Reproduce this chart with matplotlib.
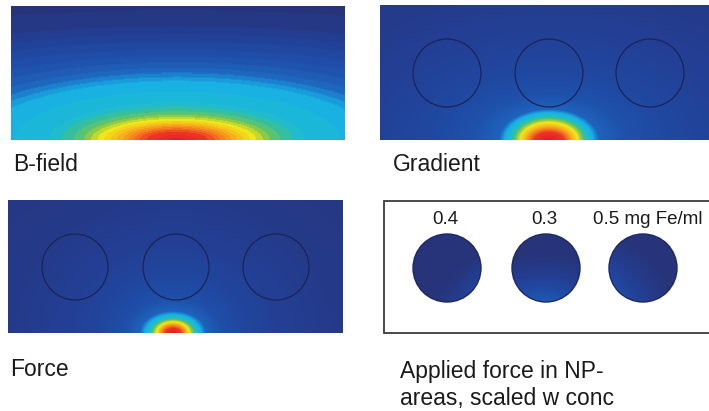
import numpy as np
import matplotlib
matplotlib.use("Agg")
import matplotlib.pyplot as plt
from matplotlib.colors import LinearSegmentedColormap
from matplotlib.patches import Circle

# ---------------------------------------------------------------------------
# Field maps are described by nested iso-level ellipses centred on the magnet
# spot at the bottom edge of each panel: level value, half-height, half-width.
# ---------------------------------------------------------------------------
BFIELD_LEVEL = [1.00, 0.92, 0.80, 0.66, 0.56, 0.46, 0.40, 0.31, 0.23, 0.15, 0.06, 0.00]
BFIELD_B     = [2,    9,    14,   20,   26,   38,   58,   68,   80,   96,   115,  150]
BFIELD_A     = [8,    34,   52,   76,   96,   130,  195,  230,  290,  380,  486,  700]

GRAD_LEVEL = [1.00, 0.92, 0.80, 0.66, 0.52, 0.40, 0.28, 0.20, 0.14, 0.10, 0.06, 0.04]
GRAD_B     = [1,    8,    12,   17,   22,   27,   31,   45,   70,   100,  140,  200]
GRAD_A     = [3,    15,   21,   28,   35,   43,   50,   75,   120,  170,  240,  350]

FORCE_LEVEL = [1.00, 0.92, 0.80, 0.66, 0.52, 0.40, 0.28, 0.19, 0.13, 0.08, 0.05, 0.03]
FORCE_B     = [1,    5,    8,    11,   14,   18,   22,   35,   60,   95,   135,  200]
FORCE_A     = [2,    8,    12,   16,   21,   27,   33,   47,   72,   110,  160,  250]

# nanoparticle wells and their iron concentrations
WELL_LABELS = ["0.4", "0.3", "0.5 mg Fe/ml"]
WELL_CONC = [0.4, 0.3, 0.5]

W, H = 709, 411
fig = plt.figure(figsize=(W / 100, H / 100), dpi=100)
fig.patch.set_facecolor("white")

cmap = LinearSegmentedColormap.from_list("comsol_rainbow", [
    (0.00, "#27347a"), (0.08, "#233f94"), (0.18, "#1f4ea8"), (0.28, "#1e63bd"),
    (0.34, "#1a8ed6"), (0.38, "#17b0e6"), (0.46, "#1fbcd0"), (0.52, "#3fc08c"),
    (0.58, "#9acb3c"), (0.64, "#f0e91a"), (0.74, "#f8b81c"), (0.84, "#f47a20"),
    (0.93, "#ec3425"), (1.00, "#e51e25"),
])


def px_axes(x0, y0, x1, y1):
    ax = fig.add_axes([x0 / W, 1 - y1 / H, (x1 - x0) / W, (y1 - y0) / H])
    ax.set_xlim(x0, x1)
    ax.set_ylim(y1, y0)
    ax.axis("off")
    return ax


def level_field(X, Y, cx, cy, levels, bs, as_, n=400):
    k = np.arange(len(levels))
    kk = np.linspace(0, len(levels) - 1, n)
    v = np.interp(kk, k, levels)
    b = np.interp(kk, k, bs)
    a = np.interp(kk, k, as_)
    dx = X - cx
    dy = cy - Y
    out = np.full(X.shape, v[-1])
    for i in range(n - 1, -1, -1):
        inside = (dx / a[i]) ** 2 + (dy / b[i]) ** 2 <= 1.0
        out[inside] = v[i]
    return out


def grid(x0, y0, x1, y1):
    xs = np.arange(x0, x1) + 0.5
    ys = np.arange(y0, y1) + 0.5
    return np.meshgrid(xs, ys)


# ---- B-field ----
P1 = (11, 6, 345, 140)
ax1 = px_axes(*P1)
X, Y = grid(*P1)
vb = level_field(X, Y, 177, 140, BFIELD_LEVEL, BFIELD_B, BFIELD_A)
vb = np.floor(vb * 28) / 28
ax1.imshow(vb, cmap=cmap, vmin=0, vmax=1, extent=(P1[0], P1[2], P1[3], P1[1]),
           origin="upper", interpolation="bilinear", aspect="auto")

# ---- Gradient ----
P2 = (380, 5, 712, 140)
ax2 = px_axes(*P2)
X, Y = grid(*P2)
vg = level_field(X, Y, 549, 140, GRAD_LEVEL, GRAD_B, GRAD_A)
ax2.imshow(vg, cmap=cmap, vmin=0, vmax=1, extent=(P2[0], P2[2], P2[3], P2[1]),
           origin="upper", interpolation="bilinear", aspect="auto")
for cx in (447, 549, 650):
    ax2.add_patch(Circle((cx, 73), 34, fill=False, ec="#1b2456", lw=0.9))

# ---- Force ----
P3 = (8, 200, 343, 333)
ax3 = px_axes(*P3)
X, Y = grid(*P3)
vf = level_field(X, Y, 173, 333, FORCE_LEVEL, FORCE_B, FORCE_A)
ax3.imshow(vf, cmap=cmap, vmin=0, vmax=1, extent=(P3[0], P3[2], P3[3], P3[1]),
           origin="upper", interpolation="bilinear", aspect="auto")
force_wells = [(75, 267), (176, 267), (276, 267)]
for cx, cy in force_wells:
    ax3.add_patch(Circle((cx, cy), 33, fill=False, ec="#1b2456", lw=0.9))

# ---- Force applied in the wells, scaled by concentration ----
P4 = (383, 200, 712, 334)
ax4 = px_axes(*P4)
ax4.plot([720, 384, 384, 720], [201, 201, 333, 333], color="#3c3c3c", lw=1.3,
         solid_joinstyle="miter")
X, Y = grid(*P4)
well_centres = [(447, 268), (546, 268), (643, 268)]
P_MIN, P_MAX = 0.03, 0.15   # colour range of force x concentration
for (cx4, cy4), (cx3, cy3), conc in zip(well_centres, force_wells, WELL_CONC):
    Xs = X - cx4 + cx3
    Ys = Y - cy4 + cy3
    pw = level_field(Xs, Ys, 173, 333, FORCE_LEVEL, FORCE_B, FORCE_A, n=200) * conc
    im = ax4.imshow(pw, cmap=cmap, vmin=P_MIN, vmax=P_MAX,
                    extent=(P4[0], P4[2], P4[3], P4[1]),
                    origin="upper", interpolation="bilinear", aspect="auto")
    im.set_clip_path(Circle((cx4, cy4), 34, transform=ax4.transData))
    ax4.add_patch(Circle((cx4, cy4), 34, fill=False, ec="#1e2766", lw=1.0))

# ---- labels ----
font = "Liberation Sans"
tc = "#1a1a1a"


def ftext(x, y, s, **kw):
    fig.text(x / W, 1 - y / H, s, family=font, color=tc, **kw)


ftext(13, 171, "B-field", fontsize=16.5, va="baseline")
ftext(393, 171, "Gradient", fontsize=16.5, va="baseline")
ftext(10, 376, "Force", fontsize=16.5, va="baseline")
ftext(400, 378, "Applied force in NP-", fontsize=16.5, va="baseline")
ftext(400, 405, "areas, scaled w conc", fontsize=16.5, va="baseline")

ftext(445, 224, WELL_LABELS[0], fontsize=13.5, va="baseline", ha="center")
ftext(544, 224, WELL_LABELS[1], fontsize=13.5, va="baseline", ha="center")
ftext(593, 224, WELL_LABELS[2], fontsize=13.5, va="baseline", ha="left")

fig.savefig("out.png", dpi=100, facecolor="white")
